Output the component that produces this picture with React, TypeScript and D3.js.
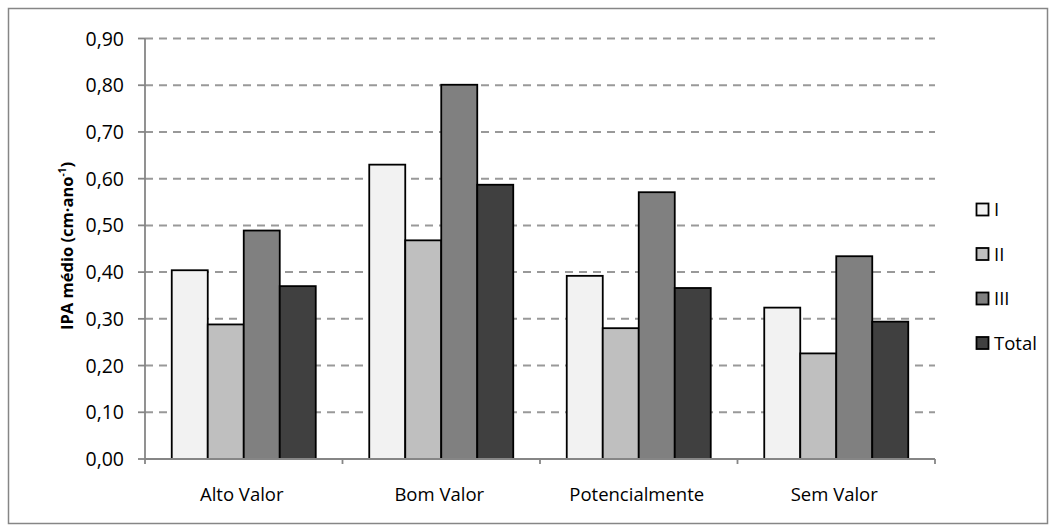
import React from "react";
import * as d3 from "d3";

const categories = ["Alto Valor", "Bom Valor", "Potencialmente", "Sem Valor"];
const seriesNames = ["I", "II", "III", "Total"];
const seriesI = [0.404, 0.63, 0.392, 0.324];
const seriesII = [0.288, 0.468, 0.28, 0.226];
const seriesIII = [0.489, 0.801, 0.571, 0.434];
const seriesTotal = [0.37, 0.587, 0.366, 0.294];
const yTickValues = [0, 0.1, 0.2, 0.3, 0.4, 0.5, 0.6, 0.7, 0.8, 0.9];
const fills = ["#f2f2f2", "#bfbfbf", "#808080", "#404040"];

const seriesValues = [seriesI, seriesII, seriesIII, seriesTotal];

const W = 1056;
const H = 532;
const plotLeft = 145;
const plotRight = 935;
const plotBottom = 459;
const plotTop = 38.5;
const FONT = "'Open Sans', 'DejaVu Sans', sans-serif";
const AXIS = "#868686";

export default function App() {
  const x = d3.scaleBand<string>().domain(categories).range([plotLeft, plotRight]).padding(0);
  const bw = x.bandwidth();
  const gap = 26.75;
  const xs = d3.scaleBand<string>().domain(seriesNames).range([gap, bw - gap]).padding(0);
  const y = d3.scaleLinear().domain([0, 0.9]).range([plotBottom, plotTop]);
  const fmt = (v: number) => d3.format(".2f")(v).replace(".", ",");
  const boundaries = [...categories.map((c) => x(c) as number), plotRight];

  return (
    <svg
      width={W}
      height={H}
      style={{ position: "absolute", left: 0, top: 0, display: "block", background: "#fff" }}
    >
      <rect x={8.5} y={8.5} width={1039} height={515} fill="#fff" stroke={AXIS} strokeWidth={1.5} />
      {/* gridlines */}
      {yTickValues
        .filter((v) => v > 0)
        .map((v) => (
          <line
            key={"g" + v}
            x1={plotLeft}
            x2={plotRight}
            y1={y(v)}
            y2={y(v)}
            stroke="#999"
            strokeWidth={2}
            strokeDasharray="8,6"
          />
        ))}
      {/* bars */}
      {categories.map((c, ci) =>
        seriesNames.map((s, si) => {
          const v = seriesValues[si][ci];
          const bx = (x(c) as number) + (xs(s) as number);
          return (
            <rect
              key={c + s}
              x={bx}
              y={y(v)}
              width={xs.bandwidth()}
              height={plotBottom - y(v)}
              fill={fills[si]}
              stroke="#000"
              strokeWidth={1.8}
            />
          );
        })
      )}
      {/* y axis */}
      <line x1={plotLeft} x2={plotLeft} y1={plotTop} y2={plotBottom} stroke={AXIS} strokeWidth={1.8} />
      {yTickValues.map((v) => (
        <g key={"t" + v}>
          <line x1={plotLeft - 7} x2={plotLeft} y1={y(v)} y2={y(v)} stroke={AXIS} strokeWidth={1.8} />
          <text
            x={124}
            y={y(v) + 7}
            textAnchor="end"
            fontFamily={FONT}
            fontSize={19.5}
            fill="#000"
          >
            {fmt(v)}
          </text>
        </g>
      ))}
      {/* x axis */}
      <line x1={plotLeft} x2={plotRight} y1={plotBottom} y2={plotBottom} stroke={AXIS} strokeWidth={1.8} />
      {boundaries.map((bxv, i) => (
        <line key={"xt" + i} x1={bxv} x2={bxv} y1={plotBottom} y2={plotBottom + 5} stroke={AXIS} strokeWidth={1.8} />
      ))}
      {categories.map((c) => (
        <text
          key={"c" + c}
          x={(x(c) as number) + bw / 2 - 2}
          y={501}
          textAnchor="middle"
          fontFamily={FONT}
          fontSize={18.5}
          fill="#000"
        >
          {c}
        </text>
      ))}
      {/* y title */}
      <text
        transform="translate(72.5,246) rotate(-90)"
        textAnchor="middle"
        fontFamily={FONT}
        fontSize={16.5}
        fontWeight="bold"
        fill="#000"
      >
        IPA médio (cm·ano
        <tspan fontSize={10} dy={-7}>
          -1
        </tspan>
        <tspan dy={7}>)</tspan>
      </text>
      {/* legend */}
      {seriesNames.map((s, i) => {
        const cy = 209.5 + i * 44.5;
        return (
          <g key={"l" + s}>
            <rect x={976.5} y={cy - 6} width={12} height={12} fill={fills[i]} stroke="#000" strokeWidth={1.8} />
            <text x={994} y={cy + 6.7} fontFamily={FONT} fontSize={18.5} fill="#000">
              {s}
            </text>
          </g>
        );
      })}
    </svg>
  );
}
